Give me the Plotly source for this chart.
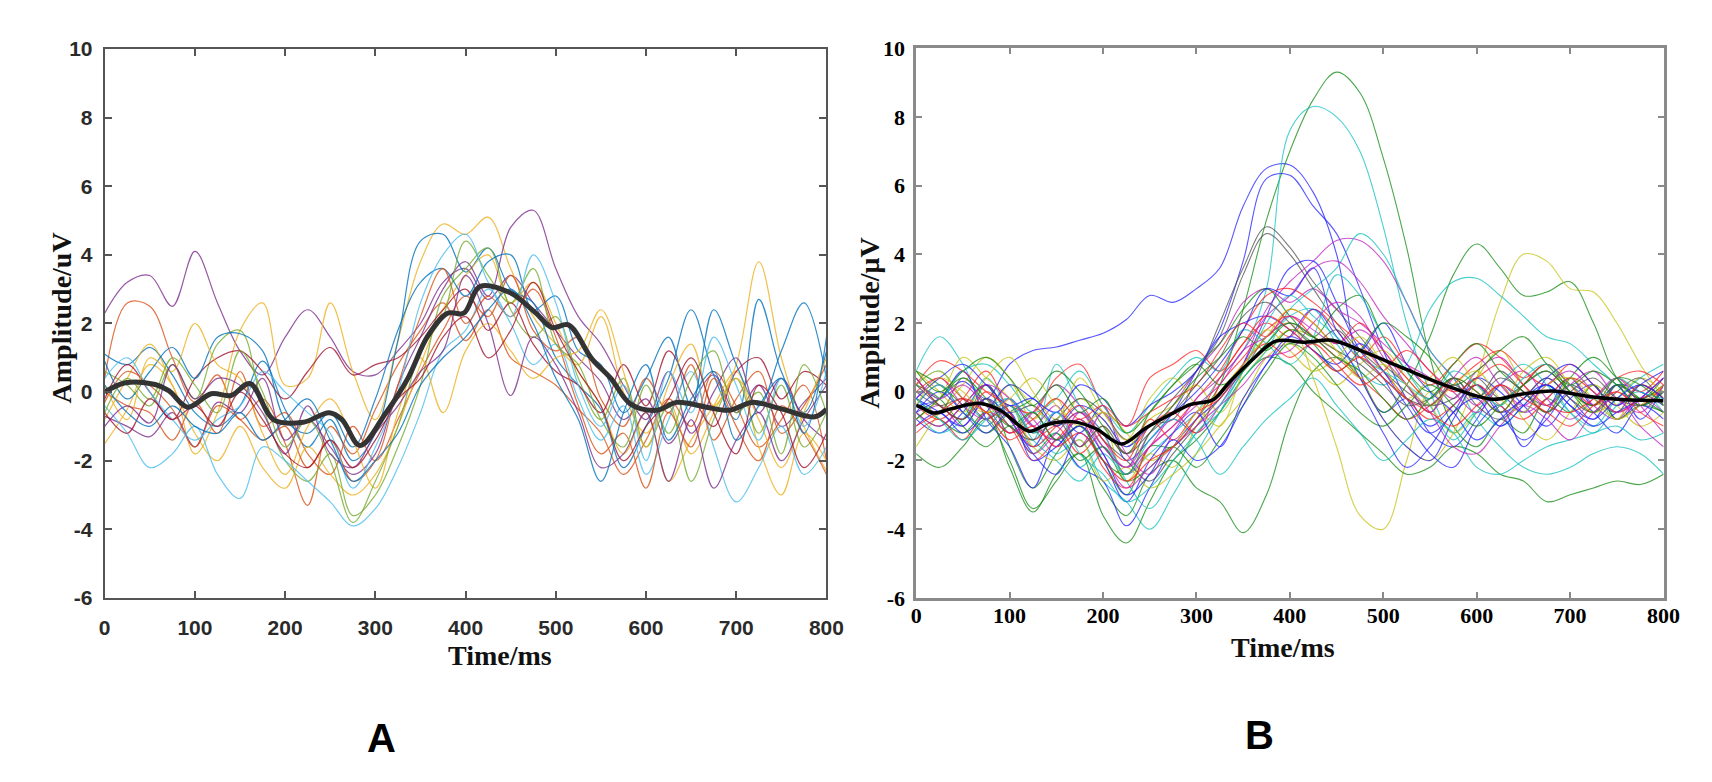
import plotly.graph_objects as go

W, H = 1712, 782

# sampling grid of the single trials (ms)
t_grid = list(range(0, 801, 25))
x_ticks = list(range(0, 801, 100))
y_ticks = list(range(-6, 11, 2))
y_tick_text = [str(v) for v in y_ticks]   # plain hyphen like the original

# ---- panel A: single trials (values read every 25 ms) ----
a01 = [2.3, 3.2, 3.4, 2.5, 4.1, 2.6, 1.2, 0.5, 1.6, 2.4, 1.6,
       0.6, 0.5, 1.2, 2.0, 3.2, 3.6, 2.7, 3.4, 2.6, 1.8, 1.0,
       0.3, -0.8, -0.2, -1.5, -0.4, 0.5, -0.6, 0.2, -1.0, -0.3, 0.4]
a02 = [0.4, 2.6, 2.5, 1.0, -0.3, 0.5, -0.8, -0.2, -1.5, -3.3, -1.0,
       -1.8, -0.5, 0.8, 1.8, 2.6, 1.5, 2.4, 1.0, 0.6, 0.2, -0.5,
       -1.2, -2.4, -1.4, -0.2, -1.0, 0.6, -0.4, -1.6, -0.8, 0.2, -2.0]
a03 = [-1.5, -0.5, 0.8, 0.2, -1.8, -0.6, 1.8, 2.6, 0.2, 0.4, 2.6,
       0.6, -0.8, 1.5, 3.8, 4.9, 4.6, 5.1, 3.6, 2.2, 1.4, 0.8,
       2.2, 0.0, -1.2, -0.3, -1.8, -0.6, 0.8, 3.8, 1.0, -1.0, -2.3]
a04 = [1.1, 0.8, 1.3, 0.5, -0.6, -1.0, -0.4, 0.9, -0.5, -1.6, -0.8,
       -2.0, -1.2, 1.5, 4.4, 4.6, 3.5, 4.2, 3.0, 2.6, 1.0, 0.2,
       -0.5, -2.2, -1.0, 0.4, 2.4, 0.5, -0.8, 2.7, 0.6, -0.6, 1.2]
a05 = [0.0, -0.4, -0.6, -1.4, -0.3, -1.2, 0.6, -1.0, -0.6, -1.8, -2.4,
       -1.0, -2.0, -0.8, 0.6, 1.8, 2.8, 2.2, 3.4, 1.8, 1.2, 1.6,
       -0.2, -1.0, 0.4, -0.6, 0.8, -1.4, -0.2, 0.6, -1.2, -0.4, 0.8]
a06 = [-0.8, 0.4, 1.4, 0.2, -1.2, -2.0, -1.0, -2.2, -2.8, -1.6, -2.4,
       -3.0, -2.4, -1.0, 0.8, 2.4, 3.4, 4.0, 2.6, 3.2, 2.0, 0.6,
       -0.4, -1.8, -0.6, -2.6, -1.4, -0.4, 0.6, -1.6, -3.0, -1.2, -2.0]
a07 = [-0.7, -1.0, -1.3, -0.6, -1.6, -0.3, -0.6, 0.4, -1.4, -0.8, -1.6,
       -2.4, -1.8, 0.2, 1.6, 3.0, 3.8, 2.8, 4.8, 5.3, 3.6, 2.2,
       1.4, 0.2, -0.8, 0.6, -1.2, 0.0, 1.0, -0.6, 0.4, -0.8, -1.4]
a08 = [0.6, 0.2, -0.4, 0.8, -0.2, 1.4, 1.8, -0.4, -2.0, -2.6, -1.8,
       -3.6, -3.0, -1.6, 0.2, 2.8, 3.6, 4.2, 2.4, 1.6, 2.2, 0.4,
       -0.8, 0.4, -1.6, -0.4, -2.6, -0.8, 0.4, -1.2, 0.2, -1.6, -0.6]
a09 = [-0.4, -1.2, -2.2, -1.8, -1.0, -2.4, -3.1, -1.6, -2.0, -2.6, -3.2,
       -3.9, -3.4, -2.2, -0.6, 1.2, 1.8, 3.0, 2.0, 0.8, 1.4, -0.2,
       -1.4, -0.4, -2.4, -0.8, 0.6, -1.6, -3.2, -2.2, -1.0, -2.4, -1.6]
a10 = [-0.2, 0.8, 0.0, -0.8, 0.4, 1.0, 1.2, 0.6, -0.2, 0.6, 1.3,
       0.5, 0.8, 1.0, 1.6, 2.4, 3.0, 1.8, 2.6, 1.4, 0.6, 0.2,
       -0.6, 0.8, -0.4, 1.2, 0.0, -1.0, 0.6, 1.0, -0.2, 0.6, 0.2]
a11 = [0.9, -0.2, 0.6, 1.3, 0.4, 1.6, 1.7, 1.2, -0.8, -1.2, -0.6,
       -1.6, -0.2, 1.8, 3.2, 3.6, 2.8, 3.8, 4.0, 2.4, 2.8, 1.2,
       0.8, -0.6, 0.4, 1.6, -0.4, 2.4, 0.8, -0.4, 1.2, 2.6, 0.4]
a12 = [-0.3, 0.6, 0.2, -0.5, -1.6, -0.4, -0.8, -1.4, -1.0, -2.2, -1.4,
       -2.6, -2.0, 0.2, 2.2, 3.6, 2.0, 2.8, 2.2, 3.0, 1.6, -0.4,
       -1.8, -1.2, -2.8, -0.6, -1.6, 0.4, -1.0, -2.0, -0.4, -1.2, -2.4]
a13 = [0.2, -0.8, 1.0, 0.6, 2.0, 0.8, 0.4, -1.2, -2.4, -1.0, -0.2,
       -1.4, -2.8, -0.6, 1.0, -0.6, 1.2, 2.0, 1.2, 0.4, 1.0, 1.2,
       2.4, 0.6, -1.6, 0.2, 1.4, -0.4, 0.4, -0.8, -2.2, -0.6, 1.0]
a14 = [-1.0, -0.4, -0.9, 0.8, -0.2, 0.4, 0.2, -0.6, -1.8, -0.4, -1.8,
       -2.2, -1.2, -0.4, 0.6, 1.2, 3.4, 2.0, -0.1, 1.6, 0.8, -0.6,
       -2.2, -1.8, -0.6, -2.6, -0.8, -2.8, -1.4, -0.6, -2.0, -0.8, 0.2]
a15 = [-0.6, 0.4, -0.2, 1.0, 0.2, -0.6, 1.2, 0.0, -1.6, -0.8, -2.0,
       -3.8, -2.6, -1.0, 1.2, 2.2, 4.4, 3.4, 2.6, 3.6, 1.4, 0.8,
       -0.8, -1.6, 0.2, -1.2, 0.4, 1.2, -0.6, 0.0, -1.8, 0.8, -0.6]
a16 = [0.4, 1.0, 0.0, -0.8, -1.4, -0.8, -0.4, 0.6, 0.0, -0.6, -1.2,
       -2.8, -1.6, 0.0, 2.6, 4.0, 4.6, 3.2, 2.2, 4.0, 2.6, 0.2,
       -1.0, 0.2, -2.0, 0.6, -0.6, 1.6, 0.2, -1.4, 0.4, -1.0, 0.6]
a17 = [-0.6, -1.2, -0.2, -0.8, -0.4, -1.0, 0.0, -0.8, -1.8, -2.2, -1.4,
       -2.2, -1.4, -0.2, 0.4, 1.6, 2.2, 1.0, 1.8, 3.2, 1.8, 0.6,
       -0.4, -2.0, -1.0, -0.2, 1.0, -0.6, -1.8, 0.2, -0.6, -2.2, -1.2]
a18 = [0.2, -0.6, -1.0, -0.4, -1.0, -1.2, -0.6, -1.4, -0.8, -0.2, -1.4,
       -2.6, -2.0, -1.2, 0.2, 1.0, 1.6, 2.4, 3.0, 2.0, 0.4, -0.8,
       -2.6, -0.6, 0.8, -1.4, -0.2, 0.6, -1.4, -0.4, 0.4, -1.2, 1.6]

a_trials = [a01, a02, a03, a04, a05, a06, a07, a08, a09,
            a10, a11, a12, a13, a14, a15, a16, a17, a18]
a_colors = ['#7E2F8E', '#D95319', '#EDB120', '#0072BD', '#D95319', '#EDB120',
            '#7E2F8E', '#77AC30', '#4DBEEE', '#A2142F', '#0072BD', '#D95319',
            '#EDB120', '#7E2F8E', '#77AC30', '#4DBEEE', '#A2142F', '#0072BD']

# panel A average
mean_a_t = [0, 23, 56, 71, 92, 118, 140, 161, 187, 220, 249, 263, 283, 311, 336,
            358, 380, 398, 416, 449, 478, 496, 514, 540, 561, 583, 612, 634,
            667, 692, 718, 750, 787, 800]
mean_a_v = [0.0, 0.27, 0.22, 0.04, -0.44, -0.05, -0.1, 0.25, -0.8, -0.88, -0.6,
            -0.8, -1.56, -0.63, 0.4, 1.63, 2.3, 2.3, 3.08, 2.9, 2.3, 1.88, 1.96,
            0.97, 0.4, -0.35, -0.53, -0.3, -0.44, -0.53, -0.3, -0.49, -0.72, -0.5]

# ---- panel B: single trials ----
b01 = [-0.6, -0.2, 0.3, -0.2, 0.8, 1.2, 1.3, 1.5, 1.7, 2.1, 2.8,
       2.6, 3.0, 3.6, 5.4, 6.5, 6.6, 5.8, 4.0, 0.6, -0.6, -0.2,
       -1.2, -1.6, -0.8, 0.2, -0.4, -1.0, -0.2, 0.2, -0.8, -0.2, 0.4]
b02 = [0.4, -0.4, -0.8, 0.2, -1.6, -2.8, -1.8, -1.0, -2.0, -3.0, -1.6,
       -1.6, -0.8, 0.2, 2.4, 5.0, 7.0, 8.5, 9.3, 8.7, 6.8, 4.2,
       1.0, -1.0, -1.6, -0.8, -1.2, -0.2, -0.6, 0.2, -0.8, -0.4, -0.6]
b03 = [0.2, 0.6, -0.2, -0.8, -0.4, -1.6, -1.2, -2.2, -1.6, -2.4, -1.8,
       -1.2, -0.6, 0.4, 1.2, 3.0, 7.6, 8.3, 8.0, 7.0, 4.8, 2.0,
       0.0, -1.2, -0.6, -1.0, -0.4, 0.2, -0.6, -1.2, -0.4, 0.0, -0.6]
b04 = [-0.8, -1.2, -0.6, 0.2, -0.8, -1.6, -0.6, -1.2, -0.4, -2.0, -1.4,
       -0.6, 0.6, 1.8, 3.8, 6.2, 6.3, 5.4, 4.6, 3.0, 1.2, -0.2,
       -1.0, -0.4, 0.2, -0.6, -0.2, 0.4, -0.2, -0.8, 0.2, 0.0, -0.4]
b05 = [-0.2, -0.6, 0.4, -0.4, -1.2, -0.6, -1.4, -0.8, -1.6, -2.2, -1.0,
       -0.8, 0.4, 2.0, 3.6, 4.8, 4.2, 3.2, 2.4, 1.6, 0.8, 0.2,
       -0.6, 0.4, -0.2, 0.6, 0.0, -0.4, 0.2, -0.2, -0.6, 0.2, -0.2]
b06 = [-0.4, 0.2, -0.6, -1.0, -0.4, -0.8, -1.6, -0.6, -1.2, -2.4, -1.6,
       -0.8, -1.2, -0.4, 0.8, 2.4, 3.2, 3.8, 4.4, 4.4, 3.8, 2.6,
       1.2, 0.4, -0.4, 0.2, -0.6, -0.2, 0.4, -0.4, -0.8, -0.2, -0.6]
b07 = [-1.6, -0.6, 0.2, 1.0, 0.4, -0.8, -0.2, -1.6, -1.0, -2.6, -1.8,
       -2.2, -1.0, 0.0, 0.8, 1.6, 2.0, 0.4, -1.6, -3.6, -4.0, -2.0,
       0.0, -0.6, 0.4, 1.2, 0.2, -0.6, 0.4, 0.0, -0.8, 0.2, -0.4]
b08 = [-1.8, -2.2, -1.6, -0.8, -2.0, -3.4, -2.6, -1.8, -2.8, -3.6, -2.4,
       -2.0, -2.8, -3.2, -4.1, -3.0, -0.8, 0.6, 1.0, 0.4, -0.6, 0.2,
       1.6, 3.4, 4.3, 3.6, 2.8, 2.9, 3.2, 2.0, 0.4, -0.2, 0.2]
b09 = [0.2, 0.6, -0.2, -0.6, 0.2, -0.4, -1.0, -0.2, -0.8, -1.6, -0.8,
       -0.4, 0.2, -0.6, 0.4, 1.2, 1.8, 1.6, 1.2, 0.4, -0.8, -1.6,
       -2.0, -1.2, 0.4, 2.6, 4.0, 3.8, 3.0, 2.9, 2.0, 0.8, -0.2]
b10 = [0.6, 1.6, 0.8, -0.4, -0.2, -1.0, -1.8, -1.4, -2.6, -3.2, -4.0,
       -3.0, -1.8, -0.6, 0.6, 1.4, 2.2, 2.4, 1.4, 0.6, 0.2, 0.8,
       2.4, 3.2, 3.3, 2.8, 2.2, 1.6, 1.4, 0.8, 0.2, -0.4, 0.0]
b11 = [-0.4, -0.8, -1.2, -0.6, -2.2, -3.5, -2.4, -1.8, -3.6, -4.4, -3.2,
       -2.0, -1.4, -0.6, 0.4, 1.0, 0.8, 0.0, -0.6, -1.2, -1.8, -2.4,
       -2.2, -1.6, -1.8, -2.4, -2.6, -3.2, -3.0, -2.8, -2.6, -2.7, -2.4]
b12 = [-0.4, -0.2, 0.6, -0.8, -1.6, -2.8, -1.4, -2.2, -2.6, -3.9, -2.8,
       -1.6, -0.8, -0.2, 0.8, 2.2, 3.6, 3.8, 2.6, 1.2, 0.4, -0.8,
       -1.8, -2.2, -1.0, -0.4, -1.6, -0.6, 0.4, -0.4, 0.2, -0.8, 0.2]
b13 = [0.2, 0.9, 0.6, 0.0, -0.4, -0.6, 0.4, 0.8, -0.4, -1.0, 0.4,
       0.8, 1.2, 0.6, 1.4, 2.0, 1.6, 2.4, 1.8, 1.0, 1.6, 0.8,
       0.2, 0.8, 1.4, 1.0, 0.4, 0.8, 0.2, -0.2, 0.4, 0.0, 0.6]
b14 = [-0.8, -0.4, -1.0, -0.2, -1.2, -0.6, 0.2, -0.4, -1.4, -2.2, -1.2,
       -0.4, 0.6, 1.4, 2.6, 3.0, 2.6, 3.0, 2.4, 2.0, 1.4, 0.8,
       0.4, -0.2, 0.6, 1.0, 0.2, -0.4, 0.2, 0.6, -0.2, -0.6, 0.2]
b15 = [-0.6, -1.2, -0.8, 0.4, -0.6, -1.4, 0.8, -0.4, -1.2, -2.6, -3.4,
       -2.4, -1.2, -0.6, 0.4, 1.2, 2.4, 3.0, 3.6, 4.6, 4.0, 2.6,
       1.2, 0.4, -0.8, -1.6, -2.2, -2.4, -2.2, -1.8, -1.6, -1.8, -2.4]
b16 = [0.0, -0.4, -0.2, -0.8, -0.4, -1.2, -0.8, -0.2, -0.6, -1.4, -1.0,
       -0.2, 0.6, 1.6, 3.4, 4.6, 4.0, 3.0, 2.0, 1.2, 0.6, 0.0,
       -0.4, -0.2, 0.4, -0.2, 0.2, 0.6, 0.0, -0.4, 0.2, -0.2, 0.2]
b17 = [-0.4, -0.8, -0.2, 0.6, -0.6, -1.4, -1.0, -1.8, -1.2, -1.8, -1.0,
       -0.6, -1.2, 0.2, 1.0, 1.8, 2.2, 1.6, 1.0, 0.4, -0.2, -0.8,
       -0.4, 0.2, 0.8, 1.2, 0.6, 0.2, 0.8, 0.2, -0.4, 0.2, -0.2]
b18 = [-0.8, -0.2, 1.0, 0.4, -0.2, -1.6, -2.0, -1.4, -2.6, -2.2, -2.8,
       -2.4, -1.8, -1.0, -0.2, 1.0, 1.4, 0.8, 0.2, 0.8, 1.2, 0.4,
       -0.4, -1.2, -0.6, 0.2, -0.8, -1.4, -0.6, 0.2, -0.4, -1.0, -0.6]
b19 = [-0.2, -0.6, -1.0, -0.2, -0.8, -1.8, -2.4, -1.2, -2.0, -3.2, -2.0,
       -1.2, -0.6, -1.6, -0.2, 0.8, 1.6, 2.4, 1.6, 0.4, -0.8, -1.6,
       -2.0, -0.8, 0.2, -0.6, -1.4, -0.8, 0.0, -0.6, -1.2, -0.4, -0.8]
b20 = [0.6, 0.2, -0.4, -1.2, -0.6, -0.2, 0.6, 0.0, -1.0, -1.8, -0.6,
       0.2, 0.8, 1.4, 2.4, 3.0, 2.2, 1.6, 2.4, 2.8, 1.6, 0.6,
       0.0, 0.8, 1.4, 0.6, 0.0, -0.6, 0.4, 1.0, 0.4, -0.2, 0.4]
b21 = [-1.2, -0.8, -1.4, -0.6, -1.0, -2.0, -1.4, -0.8, -2.2, -2.8, -1.6,
       -1.0, -0.2, 0.6, 1.8, 2.8, 3.0, 2.6, 2.0, 1.4, 0.6, -0.2,
       -0.8, -0.4, 0.2, -0.4, -0.8, -0.2, 0.4, 0.0, -0.6, -0.2, 0.0]
b22 = [0.4, -0.2, 0.6, 0.8, 0.2, -0.6, -0.2, 0.6, -0.4, -1.2, -0.4,
       0.4, 1.0, 0.6, 1.8, 1.4, 0.8, 1.6, 3.4, 2.8, 1.6, 0.6,
       -0.4, -1.4, -0.6, 0.2, 0.8, 0.2, -0.6, -1.0, -0.2, 0.4, 0.8]
b23 = [-0.2, 0.4, -0.4, -0.8, -0.2, -1.0, -0.4, -1.6, -0.6, -1.8, -2.4,
       -1.2, -0.2, 0.4, 1.2, 2.2, 2.8, 3.6, 3.8, 3.2, 2.2, 1.4,
       0.6, 0.0, -0.6, 0.2, 0.6, -0.2, -0.8, -0.2, 0.4, -0.4, -1.2]
b24 = [0.6, 0.0, -0.6, 0.4, 1.0, 0.0, -0.8, 0.4, -0.6, -1.4, -0.2,
       0.4, -0.4, -1.0, 0.6, 1.8, 1.2, 0.6, 1.0, 1.6, 0.8, -0.2,
       0.4, 1.0, 0.2, -0.4, 0.6, 1.0, 0.2, -0.6, -0.2, 0.4, 0.0]
b25 = [-0.6, -1.0, -0.4, 0.2, -0.6, -0.4, -1.0, -0.6, -1.4, -2.0, -2.6,
       -1.8, -1.0, -0.2, 0.6, 1.6, 2.0, 1.6, 1.2, 0.8, 0.2, -0.4,
       -0.2, 0.4, -0.4, -0.8, -0.2, 0.4, -0.2, -0.6, 0.0, 0.4, -0.4]
b26 = [-1.0, -0.6, -1.2, -0.6, 0.2, -0.2, -0.6, 0.2, -0.2, -1.0, -0.4,
       0.0, 0.6, 1.6, 2.0, 2.2, 1.8, 1.2, 0.8, 1.4, 0.6, -0.4,
       -1.2, -0.6, 0.4, 0.0, -0.6, 0.4, 0.8, 0.2, -0.4, 0.2, 0.6]
b27 = [0.2, -0.2, -1.0, -1.6, -1.0, -1.8, -1.2, -2.0, -1.6, -2.6, -2.2,
       -1.6, -2.2, -1.4, -0.4, 0.6, 1.4, 1.0, 0.2, -0.6, -1.0, -0.4,
       0.2, -0.4, -1.0, -0.4, 0.2, 0.8, 0.0, -0.6, 0.2, -0.2, -0.6]
b28 = [0.0, 0.4, -0.2, -0.6, -1.2, -0.8, -0.2, -0.8, -0.4, -1.0, -0.6,
       -0.2, 0.2, 1.2, 2.0, 1.6, 2.4, 2.0, 1.4, 2.0, 1.2, 0.4,
       -0.2, 0.4, 0.0, -0.6, 0.2, 0.8, 0.2, -0.4, 0.0, -0.4, 0.2]
b29 = [-0.4, 0.2, -0.6, -1.0, -0.4, -1.4, -2.0, -2.6, -1.8, -2.4, -1.4,
       -0.8, -1.4, -2.4, -1.6, -0.8, -0.2, 0.4, -0.4, -1.2, -2.0, -1.4,
       -0.8, -1.2, -2.2, -2.4, -2.0, -1.6, -1.4, -1.2, -1.0, -1.4, -1.2]
b30 = [-0.6, -1.0, -0.4, 0.2, -0.2, -1.0, -1.4, -0.8, -1.8, -2.8, -2.2,
       -1.6, -1.0, -0.4, 0.2, 1.0, 1.2, 2.0, 2.6, 2.2, 1.0, 0.2,
       -0.6, -1.6, -1.8, -1.0, -0.4, -0.8, -1.4, -0.6, -0.2, -1.0, -1.6]
b31 = [-0.2, 0.4, 0.8, 0.2, -0.4, -0.2, -1.0, -0.4, -0.8, -1.6, -1.0,
       -0.6, 0.0, 0.8, 1.8, 3.0, 2.8, 3.6, 1.8, 1.2, 2.0, 0.8,
       0.0, -0.6, -1.4, -0.8, -0.2, 0.2, -0.4, -1.0, -0.6, -0.2, 0.4]
b32 = [-0.8, -0.2, 0.4, -0.2, -1.0, -0.6, -1.4, -1.0, -2.0, -2.4, -1.2,
       -0.4, 0.4, 1.0, 1.6, 1.2, 1.8, 1.4, 0.6, 1.2, 2.0, 1.6,
       1.0, 0.2, 0.6, 1.2, 1.6, 0.8, 0.2, 0.6, 0.2, -0.4, 0.0]
b33 = [0.4, -0.4, -0.8, 0.0, -0.6, -1.6, -1.0, -0.4, -1.4, -2.0, -0.8,
       -1.4, -0.6, -0.2, 0.8, 1.4, 1.0, 1.4, 0.8, 0.2, 0.6, 1.2,
       0.6, 0.0, 0.4, 0.8, 0.2, -0.4, -0.6, -0.2, 0.4, 0.6, 0.2]
b34 = [-0.2, -0.8, -1.4, -0.8, -0.2, -1.2, -0.6, -1.8, -2.4, -3.2, -2.8,
       -2.0, -1.2, -0.4, 0.6, 2.0, 2.8, 2.2, 1.6, 1.0, 0.6, 0.2,
       -0.2, 0.6, 0.2, -0.4, 0.4, 0.8, 0.2, -0.2, 0.4, 0.0, -0.2]
b35 = [0.4, -0.2, 0.2, -0.4, -0.8, -1.8, -1.2, -0.6, -1.6, -2.2, -1.6,
       -1.0, -0.4, 0.2, 1.2, 1.6, 2.2, 1.8, 1.4, 1.8, 1.2, 0.2,
       -0.6, 0.4, 1.0, 0.2, -0.4, 0.2, 0.6, 0.0, -0.6, -0.2, 0.4]
b36 = [-0.4, 0.4, 0.0, -0.6, -0.2, 0.4, -0.4, -1.0, -0.6, -1.2, -2.0,
       -1.6, -0.6, 0.0, 0.8, 1.6, 2.4, 2.0, 1.2, 0.4, 0.8, 0.2,
       -0.4, 0.2, 0.6, -0.2, -0.6, 0.2, 0.4, -0.2, -0.8, -0.4, 0.2]
b37 = [0.2, -0.4, -0.8, -0.2, -1.0, -1.4, -0.8, -1.6, -1.0, -1.8, -1.2,
       -0.6, 0.2, 1.0, 2.2, 2.6, 2.0, 1.4, 1.8, 1.0, 0.4, -0.2,
       -0.4, 0.2, -0.2, 0.4, 0.0, -0.6, 0.0, 0.4, -0.2, -0.4, 0.0]
b38 = [-0.6, 0.0, -0.6, -1.2, -0.6, -2.0, -1.6, -1.0, -1.8, -3.0, -2.4,
       -1.4, -2.0, -1.6, -0.4, 0.8, 1.6, 1.2, 0.6, 0.0, -1.2, -2.2,
       -1.6, -0.6, -0.2, -1.0, -0.4, 0.2, -0.4, -0.8, -0.2, 0.2, -0.2]
b39 = [0.6, 0.0, 0.6, 1.0, 0.4, -0.4, 0.2, -0.6, -0.2, -1.2, -0.6,
       0.2, 0.8, 0.2, 0.6, 1.4, 2.0, 1.6, 1.0, 0.6, -0.2, -0.8,
       -0.2, 0.4, 0.0, -0.6, 0.2, 0.6, 0.0, -0.4, 0.4, 0.2, -0.4]
b40 = [-1.0, -0.6, -0.2, -0.6, -1.4, -1.0, -1.6, -1.2, -2.0, -2.6, -2.0,
       -1.6, -0.8, 0.4, 1.4, 2.2, 1.8, 1.2, 0.6, 1.0, 0.4, -0.2,
       -0.6, -1.0, -0.4, 0.2, -0.2, -0.6, -1.0, -0.4, 0.0, -0.6, -1.0]

b_trials = [b01, b02, b03, b04, b05, b06, b07, b08, b09, b10,
            b11, b12, b13, b14, b15, b16, b17, b18, b19, b20,
            b21, b22, b23, b24, b25, b26, b27, b28, b29, b30,
            b31, b32, b33, b34, b35, b36, b37, b38, b39, b40]

# old matlab colour letters
cmap = {'b': '#2020ff', 'g': '#108a10', 'r': '#ff2020', 'c': '#10c0c0',
        'm': '#c020c0', 'y': '#c8c010', 'k': '#505050'}
b_color_keys = ['b', 'g', 'c', 'b', 'k', 'm', 'y', 'g', 'y', 'c',
                'g', 'b', 'r', 'm', 'c', 'k', 'r', 'y', 'b', 'g',
                'r', 'c', 'm', 'y', 'k', 'b', 'g', 'r', 'c', 'm',
                'b', 'g', 'r', 'c', 'm', 'y', 'k', 'b', 'g', 'r']

# panel B average
mean_b_t = [0, 5, 19, 37, 69, 90, 121, 139, 167, 192, 220, 245, 273, 294, 318,
            336, 361, 385, 417, 445, 480, 522, 568, 617, 646, 681, 716, 751, 800]
mean_b_v = [-0.4, -0.45, -0.62, -0.5, -0.34, -0.54, -1.15, -0.96, -0.87, -1.07,
            -1.52, -1.07, -0.65, -0.37, -0.23, 0.3, 0.96, 1.47, 1.44, 1.5,
            1.15, 0.68, 0.17, -0.22, -0.08, 0.02, -0.12, -0.22, -0.26]

for tr in a_trials + b_trials:
    assert len(tr) == len(t_grid)

fig = go.Figure()

for vals, col in zip(a_trials, a_colors):
    fig.add_trace(go.Scatter(x=t_grid, y=vals, mode='lines', xaxis='x', yaxis='y',
                             line=dict(color=col, width=1.2, shape='spline'),
                             opacity=0.8, showlegend=False, hoverinfo='skip'))
fig.add_trace(go.Scatter(x=mean_a_t, y=mean_a_v, mode='lines', xaxis='x', yaxis='y',
                         line=dict(color='#333333', width=5, shape='spline'),
                         showlegend=False, hoverinfo='skip'))

for vals, key in zip(b_trials, b_color_keys):
    fig.add_trace(go.Scatter(x=t_grid, y=vals, mode='lines', xaxis='x2', yaxis='y2',
                             line=dict(color=cmap[key], width=1.1, shape='spline'),
                             opacity=0.75, showlegend=False, hoverinfo='skip'))
fig.add_trace(go.Scatter(x=mean_b_t, y=mean_b_v, mode='lines', xaxis='x2', yaxis='y2',
                         line=dict(color='black', width=3.5, shape='spline'),
                         showlegend=False, hoverinfo='skip'))

# axes (pixel positions converted to paper fractions)
def dom_x(a, b):
    return [a / W, b / W]

def dom_y(top, bottom):
    return [1 - bottom / H, 1 - top / H]

sans = 'Liberation Sans, Arial, sans-serif'
serif = 'Liberation Serif, Times New Roman, serif'

ax_a = dict(showline=True, linecolor='#555555', linewidth=2, mirror='ticks',
            ticks='inside', ticklen=7, tickwidth=1.5, tickcolor='#555555',
            showgrid=False, zeroline=False,
            tickfont=dict(family=sans, size=21, color='#2a2a2a', weight='bold'))
ax_b = dict(showline=True, linecolor='#8a8a8a', linewidth=2.5, mirror='ticks',
            ticks='inside', ticklen=6, tickwidth=1.5, tickcolor='#8a8a8a',
            showgrid=False, zeroline=False)

fig.update_layout(
    width=W, height=H,
    margin=dict(l=0, r=0, t=0, b=0),
    paper_bgcolor='white', plot_bgcolor='white',
    xaxis=dict(ax_a, domain=dom_x(92, 824), range=[0, 800], tickvals=x_ticks,
               anchor='y', ticklabelstandoff=10),
    yaxis=dict(ax_a, domain=dom_y(30, 597), range=[-6, 10], tickvals=y_ticks,
               ticktext=y_tick_text, anchor='x', ticklabelstandoff=6),
    xaxis2=dict(ax_b, domain=dom_x(915, 1673), range=[0, 800], tickvals=x_ticks,
                anchor='y2', ticklabelstandoff=-4,
                tickfont=dict(family=serif, size=22, color='black', weight='bold')),
    yaxis2=dict(ax_b, domain=dom_y(29, 597), range=[-6, 10], tickvals=y_ticks,
                ticktext=y_tick_text, anchor='x2', ticklabelstandoff=4,
                tickfont=dict(family=serif, size=22, color='black', weight='bold')),
)

title_font = dict(family=serif, size=28, color='#111111', weight='bold')
label_font = dict(family=sans, size=40, color='black', weight='bold')
notes = [
    ('Amplitude/uV', 48, 308, -90, title_font),
    ('Time/ms', 493, 656, 0, title_font),
    ('Amplitude/μV', 868, 313, -90, title_font),
    ('Time/ms', 1287, 648, 0, title_font),
    ('A', 373, 742, 0, label_font),
    ('B', 1263, 739, 0, label_font),
]
for txt, px, py, ang, fnt in notes:
    fig.add_annotation(text=txt, x=px / W, y=1 - py / H, xref='paper', yref='paper',
                       xanchor='center', yanchor='middle', textangle=ang,
                       showarrow=False, font=fnt)

fig.write_html("out.html")
